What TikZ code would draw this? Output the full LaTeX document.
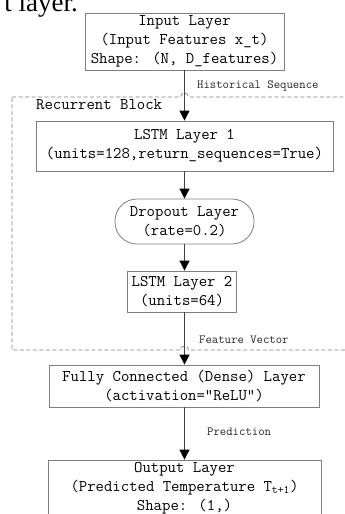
\documentclass[tikz,border=0pt]{standalone}
\usepackage{fontspec}
\setmainfont{Liberation Serif}
\usetikzlibrary{arrows.meta}
\definecolor{boxgray}{HTML}{7F7F7F}
\definecolor{linegray}{HTML}{404040}
\begin{document}
\begin{tikzpicture}[x=1pt,y=-1pt,
  box/.style={draw=boxgray, line width=0.8pt, align=center, inner sep=0pt,
    font=\ttfamily\fontsize{16.3}{19}\selectfont, text=black},
  lbl/.style={font=\ttfamily\fontsize{12.4}{14}\selectfont, anchor=west, inner sep=0pt, text=black!85},
  conn/.style={draw=linegray, line width=0.8pt,
    -{Triangle[width=10pt,length=10pt,color=black,fill=black]}},
  dashbox/.style={draw=boxgray, line width=0.7pt, dash pattern=on 4pt off 2.5pt}
]
\useasboundingbox (0,0) rectangle (345,514);
\clip (0,0) rectangle (345,514);

% cropped caption text at the top
\node[anchor=base east, font=\fontsize{27}{30}\selectfont, inner sep=0pt] (cap) at (78,12) {t layer.};

% nodes
\node[box, minimum width=199pt, minimum height=57pt] (inp) at (184.5,41.5)
  {Input Layer\\(Input Features x\_t)\\Shape: (N, D\_features)};
\node[box, minimum width=297pt, minimum height=50pt] (lstm1) at (184.5,146)
  {LSTM Layer 1\\(units=128,return\_sequences=True)};
\node[box, minimum width=139pt, minimum height=45pt, rounded corners=22pt] (drop) at (184.5,221.5)
  {Dropout Layer\\(rate=0.2)};
\node[box, minimum width=109pt, minimum height=41pt] (lstm2) at (182,291.5)
  {LSTM Layer 2\\(units=64)};
\node[box, minimum width=270pt, minimum height=42pt] (dense) at (184,386)
  {Fully Connected (Dense) Layer\\(activation="ReLU")};
\node[box, minimum width=273pt, minimum height=56pt] (out) at (184.5,488)
  {Output Layer\\(Predicted Temperature T\textsubscript{t+1})\\Shape: (1,)};

% recurrent block (dashed, with line hops over the connectors)
\draw[dashbox] (12,97) -- (180.5,97) arc[start angle=180, end angle=360, radius=4]
  -- (352,97) -- (352,350) -- (188.5,350) arc[start angle=0, end angle=-180, radius=4]
  -- (12,350) -- cycle;
\node[font=\ttfamily\fontsize{16.3}{19}\selectfont, anchor=west, inner sep=0pt] (rb) at (36,105) {Recurrent Block};

% connectors
\draw[conn] (inp.south) -- (lstm1.north);
\draw[conn] (lstm1.south) -- (drop.north);
\draw[conn] (drop.south) -- (drop.south |- lstm2.north);
\draw[conn] (lstm2.south -| drop.south) -- (dense.north -| drop.south);
\draw[conn] (dense.south -| drop.south) -- (out.north -| drop.south);

% connector labels
\node[lbl] (l1) at (197,86) {Historical Sequence};
\node[lbl] (l2) at (199,340) {Feature Vector};
\node[lbl] (l3) at (207,432) {Prediction};
\end{tikzpicture}
\end{document}
